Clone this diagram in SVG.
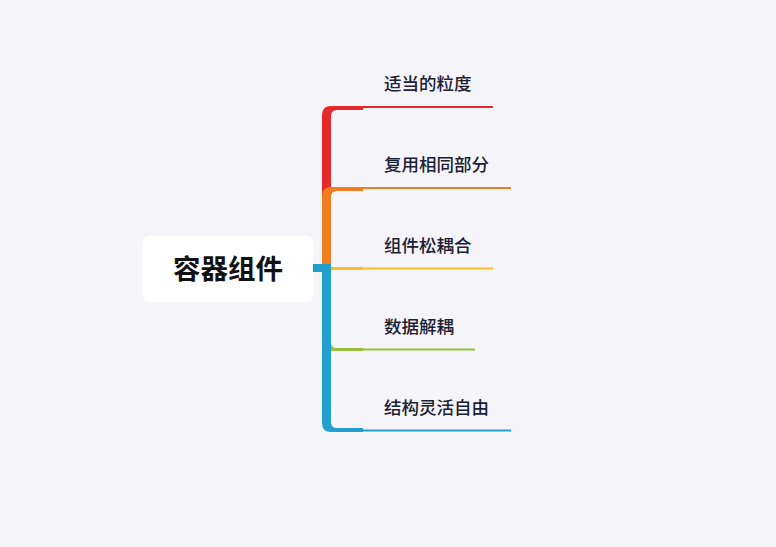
<svg xmlns="http://www.w3.org/2000/svg" width="776" height="547" viewBox="0 0 776 547">
<style>
.bg{fill:#F4F4F9}
.root-box{fill:#FFFFFF}
.root-text{font-family:"Noto Sans CJK SC","Noto Sans",sans-serif;font-size:27.5px;font-weight:700;fill:#111111}
.child-text{font-family:"Noto Sans CJK SC","Noto Sans",sans-serif;font-size:17.5px;font-weight:500;fill:#1B2033}
.thin{stroke-width:2;fill:none}
</style>
<rect class="bg" x="0" y="0" width="776" height="547"/>
<g id="connectors">
  <path d="M322,268 L322,115 Q322,106 331,106 L363,106 L363,110 L337,110 Q331,110 331,116 L331,268 Z" fill="#E62A2C"/>
  <line class="thin" x1="362" y1="107" x2="493" y2="107" stroke="#E62A2C"/>
  <path d="M322,268 L322,196 Q322,187 331,187 L363,187 L363,191 L337,191 Q331,191 331,197 L331,268 Z" fill="#F07E20"/>
  <line class="thin" x1="362" y1="188" x2="511" y2="188" stroke="#F07E20"/>
  <rect x="330" y="267" width="33" height="3" fill="#FBBD2B"/>
  <line class="thin" x1="362" y1="268.5" x2="493" y2="268.5" stroke="#FBBD2B"/>
  <path d="M322,268 L322,340 Q322,351 333,351 L363,351 L363,348 L337,348 Q331,348 331,342 L331,268 Z" fill="#9CBF3B"/>
  <line class="thin" x1="362" y1="349.5" x2="475" y2="349.5" stroke="#9CBF3B"/>
  <path d="M322,264 L322,423 Q322,432 331,432 L363,432 L363,428 L337,428 Q331,428 331,422 L331,264 Z" fill="#229FCD"/>
  <rect x="313" y="264" width="18" height="8" fill="#229FCD"/>
  <line class="thin" x1="362" y1="430.5" x2="511" y2="430.5" stroke="#229FCD"/>
</g>
<g id="root">
  <rect class="root-box" x="143" y="236" width="170" height="66" rx="6"/>
  <text class="root-text" x="228" y="279" text-anchor="middle">容器组件</text>
</g>
<g id="node1"><text class="child-text" x="384" y="90.3">适当的粒度</text></g>
<g id="node2"><text class="child-text" x="384" y="171.3">复用相同部分</text></g>
<g id="node3"><text class="child-text" x="384" y="251.8">组件松耦合</text></g>
<g id="node4"><text class="child-text" x="384" y="332.8">数据解耦</text></g>
<g id="node5"><text class="child-text" x="384" y="413.8">结构灵活自由</text></g>
</svg>
